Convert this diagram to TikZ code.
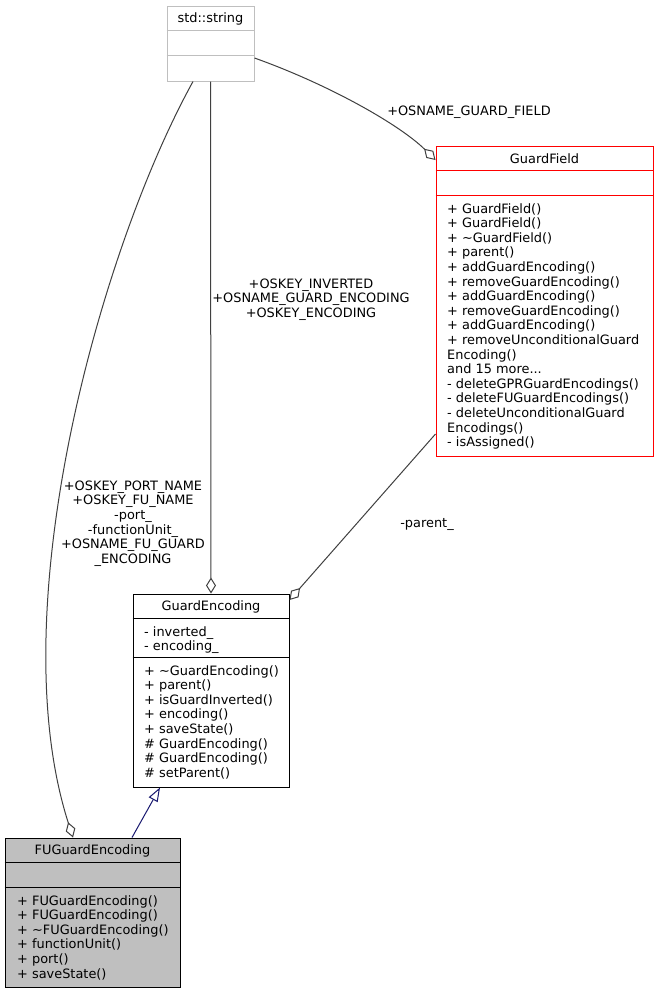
\documentclass[tikz,border=0pt]{standalone}
\usepackage{fontspec}
\setmainfont{DejaVu Sans}
\usepackage{xcolor}
\usetikzlibrary{calc,arrows.meta}
\definecolor{edge}{HTML}{404040}
\definecolor{inherit}{HTML}{191970}
\definecolor{extgray}{HTML}{BFBFBF}
\definecolor{hilite}{HTML}{BFBFBF}
\definecolor{focus}{HTML}{FF0000}
\tikzset{
  cls/.style={draw=black, line width=1pt, inner sep=0pt, fill=white},
  extcls/.style={cls, draw=extgray},
  focuscls/.style={cls, draw=focus},
  hicls/.style={cls, fill=hilite},
  sep/.style={line width=1pt},
  title/.style={font=\fontsize{12.9}{14.6}\selectfont, inner sep=0pt},
  members/.style={font=\fontsize{12.9}{14.6}\selectfont, align=left, anchor=north west, inner sep=0pt},
  lab/.style={font=\fontsize{12.9}{14.6}\selectfont, align=center, inner sep=0pt},
  agg/.style={draw=edge, line width=1pt, -{Diamond[open, length=16pt, width=10pt, fill=white]}},
  gen/.style={draw=inherit, line width=1pt, -{Triangle[open, length=14pt, width=10pt, fill=white]}},
}

\begin{document}
\begin{tikzpicture}[x=1pt, y=-1pt]
  \useasboundingbox[fill=white] (0,0) rectangle (658,993);

  % std::string
  \node[extcls, minimum width=87pt, minimum height=75pt] (str) at (210.5,43.5) {};
  \draw[sep, extgray] ($(str.north west)+(0,25)$) -- ($(str.north east)+(0,25)$);
  \draw[sep, extgray] ($(str.north west)+(0,50)$) -- ($(str.north east)+(0,50)$);
  \node[title] (strtitle) at (210.5,18.5) {std::string};

  % GuardField
  \node[focuscls, minimum width=217pt, minimum height=310pt] (gf) at (544.5,301) {};
  \draw[sep, focus] ($(gf.north west)+(0,25)$) -- ($(gf.north east)+(0,25)$);
  \draw[sep, focus] ($(gf.north west)+(0,50)$) -- ($(gf.north east)+(0,50)$);
  \node[title] (gftitle) at (544.5,158.5) {GuardField};
  \node[members] (gfops) at (447,203) {+ GuardField()\\+ GuardField()\\+ \char`~GuardField()\\+ parent()\\+ addGuardEncoding()\\+ removeGuardEncoding()\\+ addGuardEncoding()\\+ removeGuardEncoding()\\+ addGuardEncoding()\\+ removeUnconditionalGuard\\Encoding()\\and 15 more...\\- deleteGPRGuardEncodings()\\- deleteFUGuardEncodings()\\- deleteUnconditionalGuard\\Encodings()\\- isAssigned()};

  % GuardEncoding
  \node[cls, minimum width=156pt, minimum height=193pt] (ge) at (211,690.5) {};
  \draw[sep] ($(ge.north west)+(0,25)$) -- ($(ge.north east)+(0,25)$);
  \draw[sep] ($(ge.north west)+(0,64)$) -- ($(ge.north east)+(0,64)$);
  \node[title] (getitle) at (211,606.5) {GuardEncoding};
  \node[members] (geattr) at (144,626) {- inverted\_\\- encoding\_};
  \node[members] (geops) at (144,665) {+ \char`~GuardEncoding()\\+ parent()\\+ isGuardInverted()\\+ encoding()\\+ saveState()\\\# GuardEncoding()\\\# GuardEncoding()\\\# setParent()};

  % FUGuardEncoding
  \node[hicls, minimum width=175pt, minimum height=149pt] (fu) at (92.5,912.5) {};
  \draw[sep] ($(fu.north west)+(0,25)$) -- ($(fu.north east)+(0,25)$);
  \draw[sep] ($(fu.north west)+(0,50)$) -- ($(fu.north east)+(0,50)$);
  \node[title] (futitle) at (92.5,850.5) {FUGuardEncoding};
  \node[members] (fuops) at (17,895) {+ FUGuardEncoding()\\+ FUGuardEncoding()\\+ \char`~FUGuardEncoding()\\+ functionUnit()\\+ port()\\+ saveState()};

  % connectors
  \draw[agg] ([yshift=-14.5pt]str.east) .. controls (330,85) and (400,125) .. ([yshift=141pt]gf.west);
  \draw[agg] (str.south) -- (ge.north);
  \draw[agg] ([xshift=-17.5pt]str.south) .. controls (100,250) and (0,610) .. ([xshift=-19.5pt]fu.north);
  \draw[agg] ([yshift=-133pt]gf.west) -- ([yshift=90.5pt]ge.east);
  \draw[gen] ([xshift=39.5pt]fu.north) -- ([xshift=-51pt]ge.south);

  % labels
  \node[lab] (lgf) at (469,112) {+OSNAME\_GUARD\_FIELD};
  \node[lab] (lge) at (311,299.5) {+OSKEY\_INVERTED\\+OSNAME\_GUARD\_ENCODING\\+OSKEY\_ENCODING};
  \node[lab] (lfu) at (133,523.5) {+OSKEY\_PORT\_NAME\\+OSKEY\_FU\_NAME\\-port\_\\-functionUnit\_\\+OSNAME\_FU\_GUARD\\\_ENCODING};
  \node[lab] (lpar) at (427,524) {-parent\_};
\end{tikzpicture}
\end{document}
